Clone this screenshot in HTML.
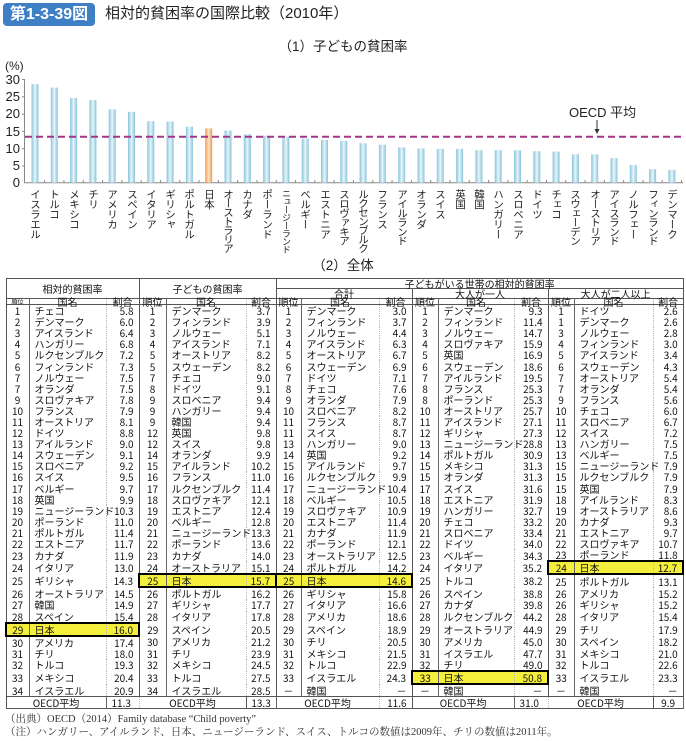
<!DOCTYPE html>
<html><head><meta charset="utf-8">
<style>
body{margin:0;width:686px;height:741px;background:#fff;position:relative;overflow:hidden;font-family:"Liberation Sans","Noto Sans CJK JP",sans-serif;color:#222}
.abs{position:absolute}
.cat{position:absolute;top:189px;width:12px;writing-mode:vertical-rl;font-size:10.5px;line-height:12px;color:#222;white-space:nowrap;letter-spacing:-0.6px}
table{position:absolute;left:5px;top:278px;width:677px;border-collapse:collapse;table-layout:fixed;border:1px solid #555;font-family:"Noto Sans CJK JP",sans-serif}
td{padding:0;height:11.1px;line-height:11px;font-size:10px;white-space:nowrap;overflow:visible;color:#111}
td:nth-child(3n+1){text-align:center;border-right:1px solid #666}
td:nth-child(3n+2){padding-left:5px;border-right:1px dotted #bbb}
td:nth-child(3n){text-align:right;padding-right:5px;border-right:1px solid #555}
tr.hd td{text-align:center;padding:0;border-right:1px solid #555;border-bottom:1px solid #555;font-size:10px;height:9px;line-height:9px}
tr.c td{height:5px;line-height:5px;border-bottom:1px solid #555;text-align:center!important;padding:0!important;font-size:10px}
tr.o td{border-top:1px solid #555;height:10px}
td.h{background:#f4ef3c;border-top:2px solid #000;border-bottom:2px solid #000}
td.hl{border-left:2px solid #000}
td.hr{border-right:2px solid #000!important}
</style></head><body>
<div class="abs" style="left:3px;top:3px;width:92px;height:23px;background:#3f7fc6;border-radius:4px;color:#fff;font-weight:bold;font-size:16px;line-height:23px;text-align:center">第1-3-39図</div>
<div class="abs" style="left:105px;top:4px;font-size:15px;line-height:20px;color:#222">相対的貧困率の国際比較（2010年）</div>
<div class="abs" style="left:0;width:686px;top:38px;text-align:center;font-size:13.5px;line-height:18px">（1）子どもの貧困率</div>
<div class="abs" style="left:5px;top:59px;font-size:12px;line-height:14px">(%)</div>
<svg class="abs" style="left:0;top:0" width="686" height="200">
<defs>
<linearGradient id="b" x1="0" x2="1"><stop offset="0" stop-color="#86c4da"/><stop offset=".5" stop-color="#e8f5fa"/><stop offset="1" stop-color="#86c4da"/></linearGradient>
<linearGradient id="j" x1="0" x2="1"><stop offset="0" stop-color="#ee9a4a"/><stop offset=".5" stop-color="#fde3c6"/><stop offset="1" stop-color="#ee9a4a"/></linearGradient>
</defs>
<g font-family="Liberation Sans" font-size="13" fill="#222" text-anchor="end">
<text x="20" y="84">30</text><text x="20" y="101">25</text><text x="20" y="118">20</text><text x="20" y="136">15</text><text x="20" y="153">10</text><text x="20" y="170">5</text><text x="20" y="187">0</text>
</g>
<g stroke="#888" stroke-width="1">
<line x1="24.5" y1="79" x2="24.5" y2="183"/>
<line x1="24.5" y1="182.7" x2="683" y2="182.7"/>
<line x1="22" y1="79.5" x2="25" y2="79.5"/><line x1="22" y1="96.8" x2="25" y2="96.8"/><line x1="22" y1="114.1" x2="25" y2="114.1"/><line x1="22" y1="131.4" x2="25" y2="131.4"/><line x1="22" y1="148.7" x2="25" y2="148.7"/><line x1="22" y1="166" x2="25" y2="166"/>
</g>
<g id="bars"></g>
<line x1="25" y1="136.7" x2="683" y2="136.7" stroke="#a2358a" stroke-width="2" stroke-dasharray="7,4"/>
<text x="569" y="117" font-family="Liberation Sans" font-size="13" fill="#222">OECD 平均</text>
<line x1="597" y1="120" x2="597" y2="132" stroke="#333" stroke-width="1"/>
<polygon points="594.5,129 599.5,129 597,134" fill="#333"/>
</svg>
<script>
(function(){
var v=[28.5,27.5,24.5,23.9,21.2,20.5,17.8,17.7,16.2,15.7,15.1,14.0,13.6,13.3,12.8,12.4,12.1,11.4,11.0,10.2,9.9,9.8,9.8,9.4,9.4,9.4,9.1,9.0,8.2,8.2,7.1,5.1,3.9,3.7];
var g=document.getElementById('bars'),s='';
for(var i=0;i<v.length;i++){var cx=35+i*19.3,h=v[i]*3.457;
s+='<rect x="'+(cx-3.5)+'" y="'+(182.7-h)+'" width="7" height="'+h+'" fill="url(#'+(i==9?'j':'b')+')"/>';
s+='<line x1="'+(cx+9.65)+'" y1="180" x2="'+(cx+9.65)+'" y2="183" stroke="#888"/>';}
g.innerHTML=s;})();
</script>
<div class="cat" style="left:29px">イスラエル</div>
<div class="cat" style="left:48px">トルコ</div>
<div class="cat" style="left:68px">メキシコ</div>
<div class="cat" style="left:87px">チリ</div>
<div class="cat" style="left:106px">アメリカ</div>
<div class="cat" style="left:126px">スペイン</div>
<div class="cat" style="left:145px">イタリア</div>
<div class="cat" style="left:164px">ギリシャ</div>
<div class="cat" style="left:183px">ポルトガル</div>
<div class="cat" style="left:203px">日本</div>
<div class="cat" style="left:222px;letter-spacing:-1.5px">オーストラリア</div>
<div class="cat" style="left:241px">カナダ</div>
<div class="cat" style="left:261px">ポーランド</div>
<div class="cat" style="left:280px;font-size:9px;letter-spacing:-1px">ニュージーランド</div>
<div class="cat" style="left:299px">ベルギー</div>
<div class="cat" style="left:319px">エストニア</div>
<div class="cat" style="left:338px;letter-spacing:-1.2px">スロヴァキア</div>
<div class="cat" style="left:357px;letter-spacing:-1.5px">ルクセンブルク</div>
<div class="cat" style="left:376px">フランス</div>
<div class="cat" style="left:396px;letter-spacing:-1.2px">アイルランド</div>
<div class="cat" style="left:415px">オランダ</div>
<div class="cat" style="left:434px">スイス</div>
<div class="cat" style="left:454px">英国</div>
<div class="cat" style="left:473px">韓国</div>
<div class="cat" style="left:492px">ハンガリー</div>
<div class="cat" style="left:512px">スロベニア</div>
<div class="cat" style="left:531px">ドイツ</div>
<div class="cat" style="left:550px">チェコ</div>
<div class="cat" style="left:569px;letter-spacing:-1.2px">スウェーデン</div>
<div class="cat" style="left:589px;letter-spacing:-1.2px">オーストリア</div>
<div class="cat" style="left:608px;letter-spacing:-1.2px">アイスランド</div>
<div class="cat" style="left:627px">ノルフェー</div>
<div class="cat" style="left:647px;letter-spacing:-1.2px">フィンランド</div>
<div class="cat" style="left:666px">デンマーク</div>
<div class="abs" style="left:0;width:686px;top:257px;text-align:center;font-size:13.5px;line-height:18px">（2）全体</div>
<table>
<colgroup><col style="width:23px"><col style="width:77px"><col style="width:33px"><col style="width:27px"><col style="width:80px"><col style="width:30px"><col style="width:25px"><col style="width:78px"><col style="width:33px"><col style="width:26px"><col style="width:76px"><col style="width:34px"><col style="width:26px"><col style="width:79px"><col style="width:30px"></colgroup>
<tr class="hd"><td colspan="3" rowspan="2">相対的貧困率</td><td colspan="3" rowspan="2">子どもの貧困率</td><td colspan="9">子どもがいる世帯の相対的貧困率</td></tr>
<tr class="hd"><td colspan="3">合計</td><td colspan="3">大人が一人</td><td colspan="3">大人が二人以上</td></tr>
<tr class="c"><td style="font-size:6px">順位</td><td>国名</td><td>割合</td><td>順位</td><td>国名</td><td>割合</td><td>順位</td><td>国名</td><td>割合</td><td>順位</td><td>国名</td><td>割合</td><td>順位</td><td>国名</td><td>割合</td></tr>
<tr><td>1</td><td>チェコ</td><td>5.8</td><td>1</td><td>デンマーク</td><td>3.7</td><td>1</td><td>デンマーク</td><td>3.0</td><td>1</td><td>デンマーク</td><td>9.3</td><td>1</td><td>ドイツ</td><td>2.6</td></tr>
<tr><td>2</td><td>デンマーク</td><td>6.0</td><td>2</td><td>フィンランド</td><td>3.9</td><td>2</td><td>フィンランド</td><td>3.7</td><td>2</td><td>フィンランド</td><td>11.4</td><td>1</td><td>デンマーク</td><td>2.6</td></tr>
<tr><td>3</td><td>アイスランド</td><td>6.4</td><td>3</td><td>ノルウェー</td><td>5.1</td><td>3</td><td>ノルウェー</td><td>4.4</td><td>3</td><td>ノルウェー</td><td>14.7</td><td>3</td><td>ノルウェー</td><td>2.8</td></tr>
<tr><td>4</td><td>ハンガリー</td><td>6.8</td><td>4</td><td>アイスランド</td><td>7.1</td><td>4</td><td>アイスランド</td><td>6.3</td><td>4</td><td>スロヴァキア</td><td>15.9</td><td>4</td><td>フィンランド</td><td>3.0</td></tr>
<tr><td>5</td><td>ルクセンブルク</td><td>7.2</td><td>5</td><td>オーストリア</td><td>8.2</td><td>5</td><td>オーストリア</td><td>6.7</td><td>5</td><td>英国</td><td>16.9</td><td>5</td><td>アイスランド</td><td>3.4</td></tr>
<tr><td>6</td><td>フィンランド</td><td>7.3</td><td>5</td><td>スウェーデン</td><td>8.2</td><td>6</td><td>スウェーデン</td><td>6.9</td><td>6</td><td>スウェーデン</td><td>18.6</td><td>6</td><td>スウェーデン</td><td>4.3</td></tr>
<tr><td>7</td><td>ノルウェー</td><td>7.5</td><td>7</td><td>チェコ</td><td>9.0</td><td>7</td><td>ドイツ</td><td>7.1</td><td>7</td><td>アイルランド</td><td>19.5</td><td>7</td><td>オーストリア</td><td>5.4</td></tr>
<tr><td>7</td><td>オランダ</td><td>7.5</td><td>8</td><td>ドイツ</td><td>9.1</td><td>8</td><td>チェコ</td><td>7.6</td><td>8</td><td>フランス</td><td>25.3</td><td>7</td><td>オランダ</td><td>5.4</td></tr>
<tr><td>9</td><td>スロヴァキア</td><td>7.8</td><td>9</td><td>スロベニア</td><td>9.4</td><td>9</td><td>オランダ</td><td>7.9</td><td>8</td><td>ポーランド</td><td>25.3</td><td>9</td><td>フランス</td><td>5.6</td></tr>
<tr><td>10</td><td>フランス</td><td>7.9</td><td>9</td><td>ハンガリー</td><td>9.4</td><td>10</td><td>スロベニア</td><td>8.2</td><td>10</td><td>オーストリア</td><td>25.7</td><td>10</td><td>チェコ</td><td>6.0</td></tr>
<tr><td>11</td><td>オーストリア</td><td>8.1</td><td>9</td><td>韓国</td><td>9.4</td><td>11</td><td>フランス</td><td>8.7</td><td>11</td><td>アイスランド</td><td>27.1</td><td>11</td><td>スロベニア</td><td>6.7</td></tr>
<tr><td>12</td><td>ドイツ</td><td>8.8</td><td>12</td><td>英国</td><td>9.8</td><td>11</td><td>スイス</td><td>8.7</td><td>12</td><td>ギリシャ</td><td>27.3</td><td>12</td><td>スイス</td><td>7.2</td></tr>
<tr><td>13</td><td>アイルランド</td><td>9.0</td><td>12</td><td>スイス</td><td>9.8</td><td>13</td><td>ハンガリー</td><td>9.0</td><td>13</td><td>ニュージーランド</td><td>28.8</td><td>13</td><td>ハンガリー</td><td>7.5</td></tr>
<tr><td>14</td><td>スウェーデン</td><td>9.1</td><td>14</td><td>オランダ</td><td>9.9</td><td>14</td><td>英国</td><td>9.2</td><td>14</td><td>ポルトガル</td><td>30.9</td><td>13</td><td>ベルギー</td><td>7.5</td></tr>
<tr><td>15</td><td>スロベニア</td><td>9.2</td><td>15</td><td>アイルランド</td><td>10.2</td><td>15</td><td>アイルランド</td><td>9.7</td><td>15</td><td>メキシコ</td><td>31.3</td><td>15</td><td>ニュージーランド</td><td>7.9</td></tr>
<tr><td>16</td><td>スイス</td><td>9.5</td><td>16</td><td>フランス</td><td>11.0</td><td>16</td><td>ルクセンブルク</td><td>9.9</td><td>15</td><td>オランダ</td><td>31.3</td><td>15</td><td>ルクセンブルク</td><td>7.9</td></tr>
<tr><td>17</td><td>ベルギー</td><td>9.7</td><td>17</td><td>ルクセンブルク</td><td>11.4</td><td>17</td><td>ニュージーランド</td><td>10.4</td><td>17</td><td>スイス</td><td>31.6</td><td>15</td><td>英国</td><td>7.9</td></tr>
<tr><td>18</td><td>英国</td><td>9.9</td><td>18</td><td>スロヴァキア</td><td>12.1</td><td>18</td><td>ベルギー</td><td>10.5</td><td>18</td><td>エストニア</td><td>31.9</td><td>18</td><td>アイルランド</td><td>8.3</td></tr>
<tr><td>19</td><td>ニュージーランド</td><td>10.3</td><td>19</td><td>エストニア</td><td>12.4</td><td>19</td><td>スロヴァキア</td><td>10.9</td><td>19</td><td>ハンガリー</td><td>32.7</td><td>19</td><td>オーストラリア</td><td>8.6</td></tr>
<tr><td>20</td><td>ポーランド</td><td>11.0</td><td>20</td><td>ベルギー</td><td>12.8</td><td>20</td><td>エストニア</td><td>11.4</td><td>20</td><td>チェコ</td><td>33.2</td><td>20</td><td>カナダ</td><td>9.3</td></tr>
<tr><td>21</td><td>ポルトガル</td><td>11.4</td><td>21</td><td>ニュージーランド</td><td>13.3</td><td>21</td><td>カナダ</td><td>11.9</td><td>21</td><td>スロベニア</td><td>33.4</td><td>21</td><td>エストニア</td><td>9.7</td></tr>
<tr><td>22</td><td>エストニア</td><td>11.7</td><td>22</td><td>ポーランド</td><td>13.6</td><td>22</td><td>ポーランド</td><td>12.1</td><td>22</td><td>ドイツ</td><td>34.0</td><td>22</td><td>スロヴァキア</td><td>10.7</td></tr>
<tr><td>23</td><td>カナダ</td><td>11.9</td><td>23</td><td>カナダ</td><td>14.0</td><td>23</td><td>オーストラリア</td><td>12.5</td><td>23</td><td>ベルギー</td><td>34.3</td><td>23</td><td>ポーランド</td><td>11.8</td></tr>
<tr><td>24</td><td>イタリア</td><td>13.0</td><td>24</td><td>オーストラリア</td><td>15.1</td><td>24</td><td>ポルトガル</td><td>14.2</td><td>24</td><td>イタリア</td><td>35.2</td><td class="h hl">24</td><td class="h">日本</td><td class="h hr">12.7</td></tr>
<tr><td>25</td><td>ギリシャ</td><td>14.3</td><td class="h hl">25</td><td class="h">日本</td><td class="h hr">15.7</td><td class="h hl">25</td><td class="h">日本</td><td class="h hr">14.6</td><td>25</td><td>トルコ</td><td>38.2</td><td>25</td><td>ポルトガル</td><td>13.1</td></tr>
<tr><td>26</td><td>オーストラリア</td><td>14.5</td><td>26</td><td>ポルトガル</td><td>16.2</td><td>26</td><td>ギリシャ</td><td>15.8</td><td>26</td><td>スペイン</td><td>38.8</td><td>26</td><td>アメリカ</td><td>15.2</td></tr>
<tr><td>27</td><td>韓国</td><td>14.9</td><td>27</td><td>ギリシャ</td><td>17.7</td><td>27</td><td>イタリア</td><td>16.6</td><td>27</td><td>カナダ</td><td>39.8</td><td>26</td><td>ギリシャ</td><td>15.2</td></tr>
<tr><td>28</td><td>スペイン</td><td>15.4</td><td>28</td><td>イタリア</td><td>17.8</td><td>28</td><td>アメリカ</td><td>18.6</td><td>28</td><td>ルクセンブルク</td><td>44.2</td><td>28</td><td>イタリア</td><td>15.4</td></tr>
<tr><td class="h hl">29</td><td class="h">日本</td><td class="h hr">16.0</td><td>29</td><td>スペイン</td><td>20.5</td><td>29</td><td>スペイン</td><td>18.9</td><td>29</td><td>オーストラリア</td><td>44.9</td><td>29</td><td>チリ</td><td>17.9</td></tr>
<tr><td>30</td><td>アメリカ</td><td>17.4</td><td>30</td><td>アメリカ</td><td>21.2</td><td>30</td><td>チリ</td><td>20.5</td><td>30</td><td>アメリカ</td><td>45.0</td><td>30</td><td>スペイン</td><td>18.2</td></tr>
<tr><td>31</td><td>チリ</td><td>18.0</td><td>31</td><td>チリ</td><td>23.9</td><td>31</td><td>メキシコ</td><td>21.5</td><td>31</td><td>イスラエル</td><td>47.7</td><td>31</td><td>メキシコ</td><td>21.0</td></tr>
<tr><td>32</td><td>トルコ</td><td>19.3</td><td>32</td><td>メキシコ</td><td>24.5</td><td>32</td><td>トルコ</td><td>22.9</td><td>32</td><td>チリ</td><td>49.0</td><td>32</td><td>トルコ</td><td>22.6</td></tr>
<tr><td>33</td><td>メキシコ</td><td>20.4</td><td>33</td><td>トルコ</td><td>27.5</td><td>33</td><td>イスラエル</td><td>24.3</td><td class="h hl">33</td><td class="h">日本</td><td class="h hr">50.8</td><td>33</td><td>イスラエル</td><td>23.3</td></tr>
<tr><td>34</td><td>イスラエル</td><td>20.9</td><td>34</td><td>イスラエル</td><td>28.5</td><td>－</td><td>韓国</td><td>－</td><td>－</td><td>韓国</td><td>－</td><td>－</td><td>韓国</td><td>－</td></tr>
<tr class="o"><td colspan="2" style="text-align:center;padding:0">OECD平均</td><td>11.3</td><td colspan="2" style="text-align:center;padding:0">OECD平均</td><td>13.3</td><td colspan="2" style="text-align:center;padding:0">OECD平均</td><td>11.6</td><td colspan="2" style="text-align:center;padding:0">OECD平均</td><td>31.0</td><td colspan="2" style="text-align:center;padding:0">OECD平均</td><td>9.9</td></tr>
</table>
<div class="abs" style="left:5px;top:713px;font-family:'Liberation Serif','Noto Serif CJK SC',serif;font-size:10.5px;line-height:13px;color:#333">（出典）OECD（2014）Family database “Child poverty”</div>
<div class="abs" style="left:5px;top:726px;font-family:'Liberation Serif','Noto Serif CJK SC',serif;font-size:10.5px;line-height:13px;color:#333">（注）ハンガリー、アイルランド、日本、ニュージーランド、スイス、トルコの数値は2009年、チリの数値は2011年。</div>
</body></html>
